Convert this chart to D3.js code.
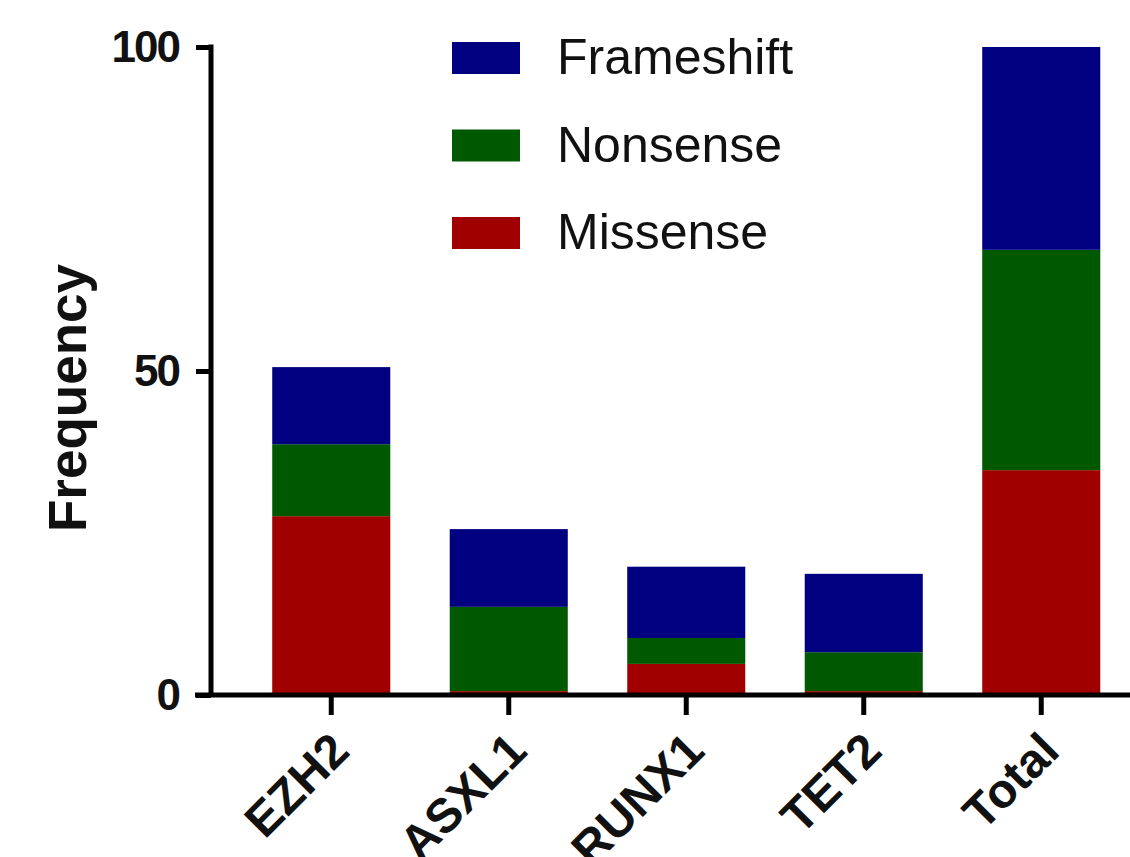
<!DOCTYPE html>
<html>
<head>
<meta charset="utf-8">
<script src="https://cdn.jsdelivr.net/npm/d3@7"></script>
<style>
  body { margin: 0; background: #fff; }
  svg { display: block; }
</style>
</head>
<body>
<div id="chart"></div>
<script>
// chart values
const categories = ["EZH2", "ASXL1", "RUNX1", "TET2", "Total"];
const missense   = [27.6, 0.6, 4.8, 0.6, 34.7];
const nonsense   = [11.1, 13.0, 4.0, 6.0, 34.0];
const frameshift = [11.9, 12.0, 11.0, 12.1, 31.3];
const yTicks = [0, 50, 100];
const seriesNames = ["Missense", "Nonsense", "Frameshift"];
const legendOrder = ["Frameshift", "Nonsense", "Missense"];

const width = 1130;
const height = 857;

// colours per mutation type
const color = d3.scaleOrdinal()
  .domain(seriesNames)
  .range(["#a00000", "#005800", "#000080"]);

const svg = d3.select("#chart")
  .append("svg")
    .attr("width", width)
    .attr("height", height);

// build rows for the stack
const rows = categories.map((c, i) => ({
  category: c,
  Missense: missense[i],
  Nonsense: nonsense[i],
  Frameshift: frameshift[i]
}));

const stacked = d3.stack().keys(seriesNames)(rows);

const x = d3.scaleBand()
  .domain(categories)
  .range([242.5, 1130])
  .paddingInner(0.335)
  .paddingOuter(0.1675);

const y = d3.scaleLinear()
  .domain([0, 100])
  .range([695, 47]);

// bars
svg.append("g")
  .selectAll("g")
  .data(stacked)
  .join("g")
    .attr("fill", d => color(d.key))
  .selectAll("rect")
  .data(d => d)
  .join("rect")
    .attr("x", d => x(d.data.category))
    .attr("y", d => y(d[1]))
    .attr("width", x.bandwidth())
    .attr("height", d => y(d[0]) - y(d[1]));

// y axis
const yAxis = svg.append("g")
  .attr("transform", "translate(211,0)")
  .call(d3.axisLeft(y).tickValues(yTicks).tickSize(15).tickPadding(17));

yAxis.select(".domain").attr("stroke-width", 5).attr("d", `M0,${y(100) - 2.5}V${y(0)}`);
yAxis.selectAll(".tick line").attr("stroke-width", 5);
yAxis.selectAll("text")
  .attr("font-family", "Liberation Sans, Arial, sans-serif")
  .attr("font-weight", "bold")
  .attr("font-size", 44)
  .attr("letter-spacing", -2)
  .attr("fill", "#111");

// x axis
const xAxis = svg.append("g")
  .attr("transform", `translate(0,${y(0)})`)
  .call(d3.axisBottom(x).tickSize(20).tickFormat(""));

xAxis.select(".domain").attr("stroke-width", 5).attr("d", "M195,0H1130");
xAxis.selectAll(".tick line").attr("stroke-width", 5);

// rotated category labels
svg.append("g")
  .selectAll("text")
  .data(categories)
  .join("text")
    .attr("transform", d => `translate(${x(d) + x.bandwidth() / 2 - 4},${y(0) + 34}) rotate(-45)`)
    .attr("text-anchor", "end")
    .attr("dominant-baseline", "hanging")
    .attr("font-family", "Liberation Sans, Arial, sans-serif")
    .attr("font-weight", "bold")
    .attr("font-size", 48)
    .attr("fill", "#111")
    .text(d => d);

// y axis title
svg.append("text")
  .attr("transform", "translate(86,398) rotate(-90)")
  .attr("text-anchor", "middle")
  .attr("font-family", "Liberation Sans, Arial, sans-serif")
  .attr("font-weight", "bold")
  .attr("font-size", 53)
  .attr("fill", "#111")
  .text("Frequency");

// legend
const legend = svg.append("g")
  .selectAll("g")
  .data(legendOrder)
  .join("g")
    .attr("transform", (d, i) => `translate(452,${42 + i * 87.5})`);

legend.append("rect")
  .attr("width", 68)
  .attr("height", 32)
  .attr("fill", d => color(d));

legend.append("text")
  .attr("x", 105)
  .attr("y", 32)
  .attr("font-family", "Liberation Sans, Arial, sans-serif")
  .attr("font-size", 50)
  .attr("fill", "#111")
  .text(d => d);
</script>
</body>
</html>
